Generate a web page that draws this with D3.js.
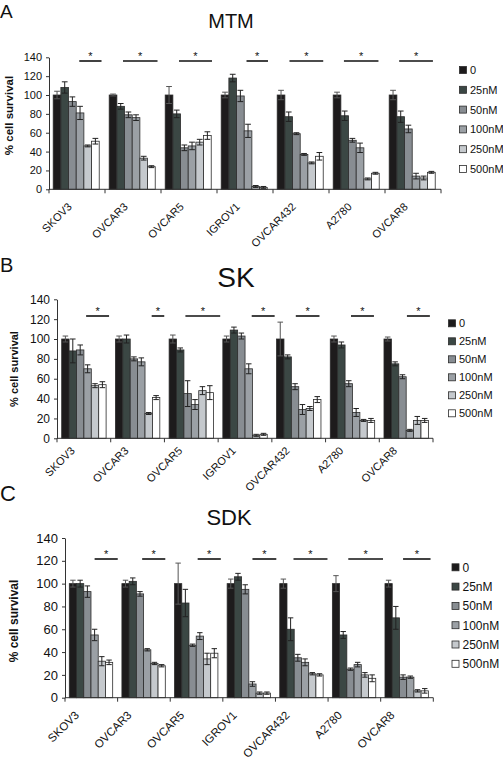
<!DOCTYPE html>
<html>
<head>
<meta charset="utf-8">
<script src="https://cdn.jsdelivr.net/npm/d3@7/dist/d3.min.js"></script>
<style>
  html, body { margin: 0; padding: 0; background: #fff; }
  svg { display: block; font-family: "Liberation Sans", Arial, Helvetica, sans-serif; }
</style>
</head>
<body>
<svg id="chart" width="503" height="760"></svg>
<script>
// ---------- DATA ----------
const categories = ["SKOV3", "OVCAR3", "OVCAR5", "IGROV1", "OVCAR432", "A2780", "OVCAR8"];
const doses = ["0", "25nM", "50nM", "100nM", "250nM", "500nM"];
const yTicks = [0, 20, 40, 60, 80, 100, 120, 140];

// MTM (panel A): mean % survival per cell line, per dose
const mtmValues = [
  [100, 108, 93, 81, 46, 51],
  [100, 88, 79, 76, 33, 24],
  [100, 80, 44, 46, 50, 57],
  [100, 118, 99, 62, 3, 2],
  [100, 77, 59, 37, 28, 35],
  [100, 78, 52, 44, 11, 17],
  [100, 77, 64, 14, 12, 18]
];
const mtmErrors = [
  [4, 6, 5, 7, 1, 3],
  [1, 3, 3, 3, 2, 1],
  [9, 4, 3, 4, 3, 4],
  [3, 4, 6, 7, 1, 1],
  [5, 5, 1, 1, 1, 4],
  [3, 5, 2, 5, 1, 1],
  [5, 6, 4, 3, 2, 1]
];
// SK (panel B)
const skValues = [
  [100, 88, 89, 70, 53, 54],
  [100, 100, 80, 77, 25, 41],
  [100, 89, 45, 34, 48, 46],
  [100, 109, 103, 70, 3, 4],
  [100, 82, 52, 29, 30, 39],
  [100, 94, 55, 26, 18, 18],
  [100, 75, 62, 8, 18, 18]
];
const skErrors = [
  [3, 12, 5, 4, 2, 3],
  [3, 4, 2, 4, 1, 2],
  [4, 2, 13, 5, 4, 7],
  [3, 3, 3, 5, 1, 1],
  [17, 2, 3, 5, 2, 3],
  [3, 3, 3, 4, 1, 2],
  [2, 2, 2, 1, 4, 2]
];
// SDK (panel C)
const sdkValues = [
  [100, 100, 93, 55, 32, 31],
  [100, 102, 91, 42, 30, 28],
  [100, 83, 46, 54, 34, 39],
  [100, 106, 95, 12, 4, 4],
  [100, 60, 35, 31, 21, 20],
  [100, 55, 25, 29, 20, 17],
  [100, 70, 18, 18, 6, 6]
];
const sdkErrors = [
  [3, 3, 5, 5, 4, 2],
  [3, 3, 2, 1, 1, 1],
  [18, 12, 1, 3, 5, 4],
  [4, 3, 4, 2, 1, 1],
  [4, 10, 3, 3, 1, 1],
  [7, 3, 1, 2, 2, 3],
  [3, 10, 2, 1, 1, 2]
];
// significance bars: span in dose-bar units within each group [from, to]
const mtmStars = [[3.4, 6.3], [1.8, 6.3], [1.8, 6.1], [3.3, 6.1], [1.6, 6.0], [1.4, 5.9], [1.3, 5.7]];
const skStars  = [[3.3, 6.4], [4.9, 6.6], [2.2, 6.9], [3.9, 7.0], [2.6, 5.8], [2.8, 5.9], [3.1, 6.2]];
const sdkStars = [[3.5, 6.7], [2.8, 6.0], [3.2, 6.4], [3.5, 6.8], [1.9, 6.6], [2.2, 7.0], [2.5, 6.3]];

const panelLetters = ["A", "B", "C"];
const panelTitles = ["MTM", "SK", "SDK"];
const yLabel = "% cell survival";

// ---------- STYLE / LAYOUT ----------
const doseColors = ["#1d1b1c", "#3b4744", "#888d92", "#9ba0a5", "#c5c9cd", "#ffffff"];
const FONT = "'Liberation Sans', Arial, Helvetica, sans-serif";

const layouts = [
  { top: 57.3, bottom: 189.3, x0: 49, x1: 441, padL: 4.2, barW: 7.67, tickFont: 11, catFont: 11,
    catDx: -4.5, catDy: 18, title: { x: 231, y: 28, size: 20 }, letter: { x: 0, y: 18, size: 19 },
    legend: { x: 459.5, y: 70, gap: 19.8, font: 11 }, yl: { x: 9, y: 115.5, size: 11.5 }, starY: 61 },
  { top: 299.3, bottom: 438.3, x0: 57, x1: 433, padL: 4.7, barW: 7.4, tickFont: 12, catFont: 11,
    catDx: -8.3, catDy: 13, title: { x: 236, y: 287, size: 28 }, letter: { x: 0, y: 272, size: 20 },
    legend: { x: 448.5, y: 323.3, gap: 18, font: 11 }, yl: { x: 14.5, y: 369, size: 11 }, starY: 316 },
  { top: 538, bottom: 697.7, x0: 65, x1: 433.3, padL: 4.3, barW: 7.23, tickFont: 13, catFont: 11.5,
    catDx: -11.6, catDy: 18.2, title: { x: 229, y: 525, size: 22 }, letter: { x: 0, y: 501, size: 22 },
    legend: { x: 452, y: 567.3, gap: 19.3, font: 12 }, yl: { x: 14, y: 621, size: 12 }, starY: 559 }
];

const panelData = [
  { values: mtmValues, errors: mtmErrors, stars: mtmStars },
  { values: skValues, errors: skErrors, stars: skStars },
  { values: sdkValues, errors: sdkErrors, stars: sdkStars }
];

const svg = d3.select("#chart");

panelData.forEach((pd, pi) => {
  const L = layouts[pi];
  const g = svg.append("g");

  const x = d3.scaleBand().domain(categories).range([L.x0, L.x1]).padding(0);
  const xi = d3.scaleBand().domain(doses).range([L.padL, L.padL + L.barW * doses.length]).padding(0);
  const y = d3.scaleLinear().domain([0, 140]).range([L.bottom, L.top]);

  // panel letter & title
  g.append("text").attr("x", L.letter.x).attr("y", L.letter.y)
    .attr("font-size", L.letter.size).attr("fill", "#111").text(panelLetters[pi]);
  g.append("text").attr("x", L.title.x).attr("y", L.title.y).attr("text-anchor", "middle")
    .attr("font-size", L.title.size).attr("fill", "#111").text(panelTitles[pi]);

  // y label
  g.append("text")
    .attr("transform", `translate(${L.yl.x},${L.yl.y}) rotate(-90)`)
    .attr("text-anchor", "middle").attr("dy", "0.35em")
    .attr("font-size", L.yl.size).attr("font-weight", "bold").attr("fill", "#111")
    .text(yLabel);

  // bars
  const groups = g.selectAll("g.grp").data(categories).enter().append("g")
    .attr("class", "grp")
    .attr("transform", c => `translate(${x(c)},0)`);

  groups.each(function (c, ci) {
    const gg = d3.select(this);
    doses.forEach((d, di) => {
      const v = pd.values[ci][di];
      const e = pd.errors[ci][di];
      const bx = xi(d);
      gg.append("rect")
        .attr("x", bx).attr("y", y(v))
        .attr("width", xi.bandwidth()).attr("height", y(0) - y(v))
        .attr("fill", doseColors[di]).attr("stroke", "#2b2b2b").attr("stroke-width", 0.8);
      const cx = bx + xi.bandwidth() / 2;
      const cw = xi.bandwidth() * 0.75;
      const eTop = y(v + e), eBot = y(Math.max(0, v - e));
      const ec = di === 0 ? "#555" : "#222";
      gg.append("line").attr("x1", cx).attr("x2", cx).attr("y1", eTop).attr("y2", eBot)
        .attr("stroke", ec).attr("stroke-width", 1);
      [eTop, eBot].forEach(yy => {
        gg.append("line").attr("x1", cx - cw / 2).attr("x2", cx + cw / 2)
          .attr("y1", yy).attr("y2", yy).attr("stroke", ec).attr("stroke-width", 1);
      });
    });
    // significance line + star
    const s = pd.stars[ci];
    const sx1 = L.padL + s[0] * L.barW, sx2 = L.padL + s[1] * L.barW;
    gg.append("line").attr("x1", sx1).attr("x2", sx2).attr("y1", L.starY).attr("y2", L.starY)
      .attr("stroke", "#111").attr("stroke-width", 1.6);
    gg.append("text").attr("x", (sx1 + sx2) / 2).attr("y", L.starY - 1.5)
      .attr("text-anchor", "middle").attr("font-size", 11).attr("fill", "#111").text("*");
  });

  // y axis
  const yAxis = g.append("g").attr("transform", `translate(${L.x0},0)`)
    .call(d3.axisLeft(y).tickValues(yTicks).tickSize(3).tickPadding(4).tickSizeOuter(0));
  yAxis.select(".domain").attr("stroke", "#333");
  yAxis.selectAll(".tick line").attr("stroke", "#333");
  yAxis.selectAll("text").attr("font-size", L.tickFont).attr("font-family", FONT).attr("fill", "#111");

  // x axis (line + boundary ticks)
  g.append("line").attr("x1", L.x0).attr("x2", L.x1).attr("y1", L.bottom).attr("y2", L.bottom)
    .attr("stroke", "#333").attr("stroke-width", 1);
  const bounds = categories.map(c => x(c)).concat([L.x1]);
  g.selectAll("line.xt").data(bounds).enter().append("line")
    .attr("x1", d => d).attr("x2", d => d).attr("y1", L.bottom).attr("y2", L.bottom + 4)
    .attr("stroke", "#333");

  // category labels
  g.selectAll("text.cat").data(categories).enter().append("text")
    .attr("class", "cat")
    .attr("transform", c => `translate(${x(c) + x.bandwidth() / 2 + L.catDx},${L.bottom + L.catDy}) rotate(-45)`)
    .attr("text-anchor", "end").attr("font-size", L.catFont).attr("fill", "#111")
    .text(c => c);

  // legend
  const lg = g.append("g").attr("transform", `translate(${L.legend.x},${L.legend.y})`);
  doses.forEach((d, di) => {
    const row = lg.append("g").attr("transform", `translate(0,${di * L.legend.gap})`);
    row.append("rect").attr("x", 0).attr("y", -3.5).attr("width", 7).attr("height", 7)
      .attr("fill", doseColors[di]).attr("stroke", "#2b2b2b").attr("stroke-width", 0.8);
    row.append("text").attr("x", 10.5).attr("y", 0).attr("dy", "0.36em")
      .attr("font-size", L.legend.font).attr("fill", "#111").text(d);
  });
});
</script>
</body>
</html>
